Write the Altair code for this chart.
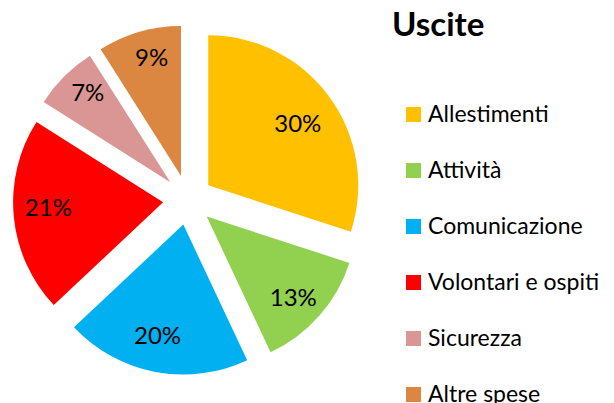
import altair as alt
import pandas as pd

categories = ["Allestimenti", "Attività", "Comunicazione", "Volontari e ospiti", "Sicurezza", "Altre spese"]
values = [30, 13, 20, 21, 7, 9]
colors = ["#FFC000", "#92D050", "#00B0F0", "#FF0000", "#DA9694", "#DB8742"]

df = pd.DataFrame({"category": categories, "value": values, "order": list(range(len(categories)))})

CX, CY = 180, 192   # pie centre (plot px)
D = 25              # explosion offset
R = 150             # radius
LX = 22             # extra label offset beyond slice centroid
LA = 0.03           # small label angle shift

base = alt.Chart(df).transform_joinaggregate(
    total="sum(value)"
).transform_window(
    cum="sum(value)", sort=[alt.SortField("order")], frame=[None, 0]
).transform_calculate(
    t0="(datum.cum - datum.value) / datum.total * 2 * PI",
    t1="datum.cum / datum.total * 2 * PI",
).transform_calculate(
    mid="(datum.t0 + datum.t1) / 2",
    half="(datum.t1 - datum.t0) / 2",
).transform_calculate(
    lr=f"{D} + {LX} + 2 * {R} * sin(datum.half) / (3 * datum.half)",
    lang=f"datum.mid + {LA}",
).transform_calculate(
    px=f"{CX} + {D} * sin(datum.mid)",
    py=f"{CY} - {D} * cos(datum.mid)",
    lx=f"{CX} + datum.lr * sin(datum.lang)",
    ly=f"{CY} - datum.lr * cos(datum.lang)",
    label="datum.value + '%'",
)

arcs = base.mark_arc(outerRadius=R, stroke=None).encode(
    theta=alt.Theta("t0:Q", scale=None, stack=None),
    theta2="t1:Q",
    x=alt.X("px:Q", scale=None),
    y=alt.Y("py:Q", scale=None),
    color=alt.Color(
        "category:N",
        sort=categories,
        scale=alt.Scale(domain=categories, range=colors),
        legend=alt.Legend(
            title="Uscite",
            orient="none",
            legendX=384,
            legendY=2,
            titleFont="Lato",
            titleFontSize=33,
            titleFontWeight="bold",
            titleColor="#000000",
            titlePadding=60,
            titleLimit=300,
            symbolType="square",
            symbolSize=225,
            symbolStrokeWidth=0,
            symbolOffset=10,
            labelFont="Lato",
            labelFontSize=23,
            labelColor="#000000",
            labelOffset=3,
            rowPadding=32,
            labelLimit=300,
        ),
    ),
)

labels = base.mark_text(font="Lato", fontSize=24, color="#000000", baseline="middle", align="center").encode(
    x=alt.X("lx:Q", scale=None),
    y=alt.Y("ly:Q", scale=None),
    text="label:N",
)

chart = alt.layer(arcs, labels).properties(
    width=598, height=395, autosize=alt.AutoSizeParams(type="none"), padding=0
).configure_view(stroke=None)

chart.save("out.html", embed_options={"renderer": "svg", "actions": False})
